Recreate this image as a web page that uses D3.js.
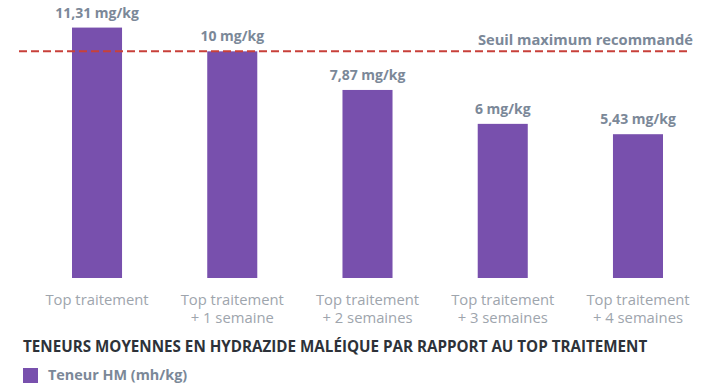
<!DOCTYPE html>
<html>
<head>
<meta charset="utf-8">
<script src="https://cdn.jsdelivr.net/npm/d3@7"></script>
<style>
  body { margin: 0; background: #fff; }
  svg { display: block; font-family: "Open Sans", sans-serif; }
</style>
</head>
<body>
<div class="chart"></div>
<script>
// categories (two lines each) and mean HM content, mg/kg
var categories = ['Top traitement', 'Top traitement + 1 semaine', 'Top traitement + 2 semaines',
  'Top traitement + 3 semaines', 'Top traitement + 4 semaines'],
  catLine1 = ['Top traitement', 'Top traitement', 'Top traitement', 'Top traitement', 'Top traitement'],
  catLine2 = ['', '+ 1 semaine', '+ 2 semaines', '+ 3 semaines', '+ 4 semaines'],
  values = [11.31, 10, 7.87, 6, 5.43],
  valueLabels = ['11,31 mg/kg', '10 mg/kg', '7,87 mg/kg', '6 mg/kg', '5,43 mg/kg'],
  threshold = 10,
  thresholdLabel = 'Seuil maximum recommandé',
  title = 'TENEURS MOYENNES EN HYDRAZIDE MALÉIQUE PAR RAPPORT AU TOP TRAITEMENT',
  legendLabel = 'Teneur HM (mh/kg)';

var width = 707,
  height = 383,
  baseY = 278,
  barColor = '#7850ad',
  valueColor = '#7b8898';

var svg = d3.select('.chart')
  .append('svg')
  .attr('width', width)
  .attr('height', height);

var x = d3.scaleBand()
  .domain(categories)
  .range([29.4, 705.6])
  .paddingInner(0.63)
  .paddingOuter(0.315);

// the original is not drawn from zero, so the value axis starts below it
var y = d3.scaleLinear()
  .domain([-2.5, 12.5])
  .range([baseY, 6]);

svg.append('g')
  .selectAll('rect')
  .data(values)
  .enter()
  .append('rect')
  .attr('x', (d, i) => x(categories[i]))
  .attr('y', d => y(d))
  .attr('width', x.bandwidth())
  .attr('height', d => baseY - y(d))
  .attr('fill', barColor);

svg.append('g')
  .selectAll('text')
  .data(values)
  .enter()
  .append('text')
  .attr('x', (d, i) => x(categories[i]) + x.bandwidth() / 2)
  .attr('y', d => y(d) - 10)
  .attr('text-anchor', 'middle')
  .attr('font-size', 14)
  .attr('font-weight', 700)
  .attr('fill', valueColor)
  .text((d, i) => valueLabels[i]);

// threshold
svg.append('line')
  .attr('x1', 19)
  .attr('x2', 687)
  .attr('y1', y(threshold))
  .attr('y2', y(threshold))
  .attr('stroke', '#c8403a')
  .attr('stroke-width', 2)
  .attr('stroke-dasharray', '8,4');

svg.append('text')
  .attr('x', 693)
  .attr('y', y(threshold) - 6)
  .attr('text-anchor', 'end')
  .attr('font-size', 14.7)
  .attr('font-weight', 700)
  .attr('fill', valueColor)
  .text(thresholdLabel);

// category labels
var cat = svg.append('g')
  .selectAll('text')
  .data(categories)
  .enter()
  .append('text')
  .attr('text-anchor', 'middle')
  .attr('font-size', 14.8)
  .attr('fill', '#9ea5ad');

cat.append('tspan')
  .attr('x', d => x(d) + x.bandwidth() / 2)
  .attr('y', 305)
  .text((d, i) => catLine1[i]);

cat.append('tspan')
  .attr('x', d => x(d) + x.bandwidth() / 2)
  .attr('y', 323)
  .text((d, i) => catLine2[i]);

svg.append('text')
  .attr('x', 23)
  .attr('y', 352)
  .attr('font-size', 15.2)
  .attr('font-weight', 700)
  .attr('fill', '#2d3239')
  .text(title);

svg.append('rect')
  .attr('x', 23)
  .attr('y', 368)
  .attr('width', 15)
  .attr('height', 15)
  .attr('fill', barColor);

svg.append('text')
  .attr('x', 48)
  .attr('y', 380)
  .attr('font-size', 14.4)
  .attr('font-weight', 700)
  .attr('fill', valueColor)
  .text(legendLabel);
</script>
</body>
</html>
